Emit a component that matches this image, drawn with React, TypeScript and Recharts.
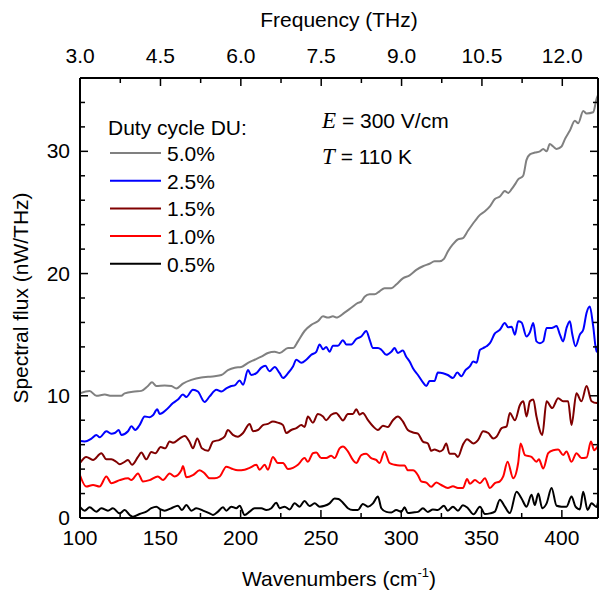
import { LineChart, Line, XAxis, YAxis } from "recharts";

const FONT = '"Liberation Sans", Arial, sans-serif';
const SERIF = '"Liberation Serif", "Times New Roman", serif';
const W = 600;
const H = 595;
const WN_PER_THZ = 33.356;
const WN_MIN = 100;
const WN_MAX = 422.5;
const FLUX_MAX = 36;
const FS = 21;

// plot box, follows from the margins and axis sizes given to the chart below
const BOX = { left: 80, right: 598, top: 78, bottom: 518 };

// 5.0 % duty cycle
const grayWn = [100, 106, 110.2, 115.4, 119.5, 125.7, 127.8, 134, 138.2, 142.3, 144.8, 147.5, 152.7, 156.9, 160, 164.1, 169.3, 175.5, 179.7, 183.8, 188, 192.1, 196.3, 200.4, 204.6, 208.7, 212.9, 217, 221.2, 224.3, 229.5, 232.6, 235.7, 239.8, 244, 248.1, 251.3, 254.4, 257.5, 259.5, 264.7, 268.9, 273, 275.1, 277.2, 280.3, 283.4, 286.5, 289.6, 293.8, 296.9, 301, 305.2, 309.4, 313.5, 317.6, 320.7, 323.9, 326.6, 329, 332.2, 335.3, 338.4, 341.5, 345.9, 349, 352.1, 355.2, 358.3, 361.4, 364.5, 366.6, 368.7, 370.8, 372.8, 375.9, 378, 380.1, 383.2, 386.3, 388.4, 390.5, 392.5, 394.6, 396.7, 399.8, 401.9, 405, 408.1, 410.2, 413.3, 415.4, 419.5, 421.6, 422.5];
const grayFlux = [10.2, 10.4, 10.0, 10.1, 10.0, 10.0, 10.2, 10.35, 10.4, 10.8, 11.1, 10.8, 10.85, 10.8, 10.6, 11.0, 11.3, 11.5, 11.55, 11.6, 11.7, 12.1, 12.3, 12.35, 12.7, 12.95, 13.2, 13.5, 13.6, 13.5, 13.9, 13.9, 14.45, 15.3, 15.8, 16.1, 16.5, 16.4, 16.5, 16.4, 16.8, 17.2, 17.6, 17.7, 18.1, 18.3, 18.3, 18.55, 18.8, 18.8, 19.1, 19.6, 19.85, 20.3, 20.6, 20.8, 21.0, 21.0, 21.2, 21.8, 22.4, 22.8, 22.9, 23.5, 24.3, 24.8, 25.1, 25.5, 26.1, 26.3, 26.75, 26.6, 26.9, 27.3, 27.7, 28.0, 29.3, 29.75, 29.9, 30.0, 30.2, 30.0, 30.6, 30.4, 30.2, 30.4, 31.0, 31.7, 32.5, 32.3, 33.3, 33.1, 33.2, 34.3, 34.6];

// 2.5 %
const blueWn = [100, 102.9, 107.1, 110.2, 112.3, 116.4, 119.5, 121.6, 124.1, 125.7, 129.9, 132, 134.4, 137.1, 140.3, 143.4, 145.4, 148.1, 149.6, 153.7, 157.9, 161, 164.1, 166.2, 170.3, 173.4, 177.6, 180.7, 184.9, 188, 191.1, 194.2, 196.3, 199.4, 201.5, 204.6, 206.6, 209.8, 212.9, 215.4, 218, 221.2, 224.3, 226.4, 229.5, 232.6, 234.7, 237.8, 240.9, 244, 247.1, 249.2, 251.3, 253.3, 255.4, 257.5, 260.6, 263.7, 265.8, 268.9, 272, 275.1, 278.2, 280.3, 282.4, 285.5, 287.6, 290.7, 293.8, 295.9, 297.9, 301, 303.1, 305.2, 307.3, 310.4, 313.5, 315.6, 317.6, 320.7, 322.8, 326, 329, 332.2, 334.9, 337.4, 340, 342.7, 344.8, 346.9, 349, 351, 353.1, 355.2, 358.3, 361.4, 364.5, 366.6, 368.7, 370.8, 372.8, 374.9, 378, 380.1, 382.2, 384.2, 386.3, 388.4, 390.5, 393.6, 396.7, 398.8, 400.8, 402.9, 405, 406.4, 408.5, 411.2, 413.3, 415.4, 417.4, 419.5, 421.6, 422.5];
const blueFlux = [6.3, 6.26, 6.5, 6.8, 6.6, 7.1, 6.9, 6.95, 7.2, 6.8, 7.1, 7.5, 7.2, 7.6, 8.3, 8.25, 8.4, 8.9, 8.5, 8.85, 9.4, 9.7, 10.1, 9.9, 10.5, 10.35, 9.5, 9.95, 10.5, 10.35, 10.6, 10.8, 10.85, 11.25, 10.9, 12.1, 11.7, 11.85, 12.3, 12.45, 12.0, 12.35, 11.85, 11.45, 11.85, 12.4, 12.95, 12.7, 12.95, 13.35, 13.6, 14.2, 13.8, 14.0, 13.6, 14.1, 14.1, 14.55, 14.2, 14.2, 14.65, 14.85, 15.3, 14.6, 13.9, 13.9, 13.77, 13.35, 13.6, 13.9, 13.5, 13.7, 13.2, 12.8, 12.25, 11.7, 11.1, 10.8, 11.2, 11.2, 11.9, 11.85, 11.7, 11.45, 11.9, 11.6, 12.1, 12.4, 12.8, 12.7, 13.75, 13.9, 14.05, 14.3, 15.1, 15.4, 15.95, 15.6, 15.65, 15.0, 16.1, 16.0, 14.85, 15.2, 15.95, 14.45, 14.3, 14.45, 15.55, 15.55, 15.7, 15.0, 14.45, 15.55, 16.1, 15.1, 14.05, 15.0, 15.4, 16.8, 17.3, 15.7, 13.6, 14.2];

// 1.5 %
const darkRedWn = [100, 103.9, 108.1, 113.3, 116.4, 119.5, 122.6, 124.7, 127.8, 129.9, 132.4, 136.1, 138.2, 141.3, 144.4, 146.9, 150.2, 153.1, 155.8, 157.9, 162, 165.2, 168.3, 170.3, 173, 175.9, 179.7, 182.8, 187, 190, 192.1, 195.2, 198.3, 201.5, 205.6, 207.7, 210.8, 213.9, 217, 220.1, 223.2, 226.4, 228.4, 231.5, 234.7, 237.8, 239.8, 241.9, 245, 248.1, 251.3, 253.3, 256.4, 259.5, 261.6, 263.7, 266.8, 269.9, 272, 274.1, 276.1, 279.3, 282.4, 285.5, 288.6, 291.7, 294.8, 297.9, 301, 304.1, 307.3, 310.4, 313.5, 316.6, 318.7, 320.7, 323.9, 326, 328, 330.1, 333.2, 335.3, 338.4, 341, 344.8, 347.9, 351, 354.2, 357.3, 359.3, 362.5, 365.6, 367.6, 370.8, 373.9, 376, 378, 380.1, 382.2, 384.2, 387.8, 390.5, 394, 397.7, 400.8, 403.9, 406, 409.1, 412.2, 415.4, 418.5, 421.6, 422.5];
const darkRedFlux = [4.5, 5.0, 4.75, 5.3, 4.8, 4.8, 4.6, 4.4, 4.6, 4.75, 4.35, 5.0, 5.35, 4.8, 5.4, 5.3, 5.8, 5.7, 6.25, 6.15, 6.5, 6.7, 6.2, 5.7, 6.5, 5.7, 5.5, 6.25, 6.4, 6.65, 7.2, 6.8, 6.65, 6.95, 7.7, 7.1, 7.2, 7.6, 7.7, 7.9, 7.8, 7.6, 6.95, 7.2, 7.35, 7.6, 7.45, 8.3, 7.8, 8.5, 8.3, 8.0, 8.45, 8.6, 8.3, 7.98, 8.5, 8.5, 8.9, 8.45, 8.6, 8.0, 7.5, 7.2, 7.55, 7.45, 8.0, 8.3, 7.9, 7.2, 7.0, 6.9, 6.25, 6.1, 5.5, 5.6, 5.45, 5.6, 6.1, 5.25, 5.25, 5.0, 6.0, 6.45, 6.1, 6.4, 7.1, 6.95, 6.5, 6.65, 7.35, 7.5, 8.6, 8.0, 9.25, 9.55, 8.3, 9.55, 9.7, 8.3, 6.8, 9.55, 9.0, 9.8, 9.55, 9.55, 7.6, 10.2, 9.55, 10.8, 9.55, 9.4, 9.5];

// 1.0 %
const redWn = [100, 103.9, 108.1, 112.2, 116.4, 119.5, 124.7, 129.9, 132, 136.1, 139.2, 143.4, 148.5, 151.7, 155.8, 158.9, 163.1, 164.1, 166.2, 170.3, 174.5, 177.6, 180.7, 183.8, 187, 191.1, 194.2, 198.3, 202.5, 205.6, 209.8, 211.8, 215, 217, 220.1, 223.2, 226.4, 229.5, 232.6, 235.7, 239.8, 241.9, 245, 247.1, 250.2, 253.3, 256.4, 258.5, 261.6, 263.7, 266.8, 269.9, 272, 275.1, 278.2, 281.3, 284.4, 286.5, 289.6, 292.7, 295.9, 299, 302.1, 304.1, 307.3, 310.4, 312.4, 315.6, 318.7, 321.8, 324.9, 329, 332.2, 335.3, 338.4, 341, 342.7, 345.9, 349, 352.1, 355.2, 358.3, 361.4, 363.5, 366.2, 369.7, 372.8, 374.3, 377, 381.1, 384.2, 385.7, 388.4, 391.5, 394.6, 397.7, 400.8, 402.9, 406, 409.1, 412.2, 415.4, 418.1, 420.1, 422.5];
const redFlux = [3.5, 2.57, 2.7, 2.57, 3.4, 2.85, 3.1, 3.25, 3.1, 3.65, 2.98, 3.1, 3.4, 3.1, 3.65, 3.4, 3.9, 4.25, 3.33, 3.5, 3.9, 3.65, 3.25, 3.25, 3.4, 4.2, 4.05, 3.9, 3.95, 4.1, 4.35, 3.95, 4.35, 3.95, 5.0, 4.5, 4.5, 4.0, 4.1, 4.35, 4.9, 4.6, 5.3, 5.35, 4.9, 4.9, 5.1, 4.9, 5.7, 5.85, 5.45, 4.75, 4.5, 5.15, 5.25, 4.9, 4.75, 4.5, 5.45, 4.5, 4.35, 4.3, 4.3, 3.9, 3.9, 3.5, 3.0, 2.9, 2.55, 2.9, 2.7, 2.45, 2.6, 2.45, 2.45, 3.2, 2.8, 3.1, 2.85, 3.25, 2.45, 2.85, 3.0, 3.4, 4.6, 3.25, 4.5, 6.1, 5.15, 5.0, 4.6, 4.8, 4.05, 5.3, 5.55, 5.6, 5.15, 5.45, 4.6, 5.3, 4.9, 4.95, 6.25, 5.55, 5.9];

// 0.5 %
const blackWn = [100, 102.9, 106, 110.2, 113.3, 117.4, 120.5, 124.7, 127.8, 130.9, 133, 137.1, 141.3, 144.4, 147.5, 150.2, 152.7, 156.9, 161, 163.5, 166.2, 169.3, 172.4, 176.6, 180.7, 182.8, 185.9, 189, 191.1, 194.2, 197.3, 199.4, 202.5, 205.6, 208.7, 212.9, 216, 219.1, 222.2, 224.3, 227.4, 230.5, 233.6, 236.7, 239.8, 242.9, 246.1, 249.2, 252.3, 255.4, 258.5, 261, 263.7, 266.8, 269.9, 273, 276.1, 279.3, 282.4, 285.5, 287.6, 290.7, 293.8, 296.9, 300, 302.1, 304.1, 307.3, 310.4, 313.5, 316.6, 319.7, 322.8, 326.6, 329, 332.2, 335.3, 338.4, 341.5, 345, 349, 352.1, 355.2, 358.3, 361.4, 364.5, 367.6, 371.8, 374.9, 378, 381.1, 383.2, 385.3, 387.8, 390.5, 393.6, 396.7, 399.8, 402.9, 406, 408.5, 411.2, 413.3, 416, 418.5, 421.6, 422.5];
const blackFlux = [0.9, 0.6, 0.87, 0.52, 0.8, 0.6, 0.8, 0.38, 0.65, 0.25, 0.1, 0.33, 0.52, 0.8, 0.93, 0.7, 0.6, 0.8, 1.0, 0.65, 1.06, 0.6, 0.8, 0.6, 0.38, 0.25, 0.52, 0.87, 0.6, 0.93, 0.8, 1.0, 0.25, 0.52, 0.8, 0.8, 0.65, 0.8, 1.25, 0.8, 0.93, 0.7, 1.2, 0.93, 1.4, 0.98, 1.2, 0.93, 1.0, 1.2, 1.6, 1.55, 1.25, 0.8, 0.65, 0.65, 1.15, 0.93, 1.2, 1.75, 0.8, 0.5, 0.45, 0.65, 0.5, 0.87, 0.4, 0.45, 0.5, 0.8, 0.5, 0.7, 0.65, 1.0, 0.6, 0.93, 0.6, 1.05, 0.8, 0.3, 0.93, 0.33, 0.38, 0.52, 1.5, 0.93, 0.4, 2.15, 1.6, 0.93, 1.9, 1.06, 2.0, 0.8, 1.2, 2.45, 1.0, 0.93, 0.93, 1.75, 0.93, 0.7, 2.15, 0.65, 1.2, 0.9, 1.3];

const wnTicks = [100, 125, 150, 175, 200, 225, 250, 275, 300, 325, 350, 375, 400];
const thzTicks = [3, 3.75, 4.5, 5.25, 6, 6.75, 7.5, 8.25, 9, 9.75, 10.5, 11.25, 12];
const fluxTicks = [0, 2, 4, 6, 8, 10, 12, 14, 16, 18, 20, 22, 24, 26, 28, 30, 32, 34];

const series = [
  { key: "du50", label: "5.0%", color: "#808080", wn: grayWn, flux: grayFlux },
  { key: "du25", label: "2.5%", color: "#0000ff", wn: blueWn, flux: blueFlux },
  { key: "du15", label: "1.5%", color: "#800000", wn: darkRedWn, flux: darkRedFlux },
  { key: "du10", label: "1.0%", color: "#ff0000", wn: redWn, flux: redFlux },
  { key: "du05", label: "0.5%", color: "#000000", wn: blackWn, flux: blackFlux },
];

// one table for the chart: each row carries one series value, lines skip the gaps
const rows = series
  .flatMap((s) => s.wn.map((w, i) => ({ wn: w, thz: w / WN_PER_THZ, [s.key]: s.flux[i] })))
  .sort((a, b) => a.wn - b.wn);

const isMult = (v: number, step: number) => Math.abs(v / step - Math.round(v / step)) < 1e-6;

// tick labels come from recharts
function makeLabel(step: number, fmt: (v: number) => string, tx: number, ty: number, anchor: string) {
  return (p: any) => (
    <text x={p.x + tx} y={p.y + ty} textAnchor={anchor} fontSize={FS} fontFamily={FONT} fill="#000">
      {isMult(p.payload.value, step) ? fmt(p.payload.value) : ""}
    </text>
  );
}
const bottomLabel = makeLabel(50, (v) => String(v), 0, 27, "middle");
const topLabel = makeLabel(1.5, (v) => v.toFixed(1), 0, -15, "middle");
const leftLabel = makeLabel(10, (v) => String(v), -10, 7, "end");

// frame and inward tick marks, same box as the chart's plot area
const sx = (wn: number) => BOX.left + ((wn - WN_MIN) / (WN_MAX - WN_MIN)) * (BOX.right - BOX.left);
const sy = (v: number) => BOX.bottom - (v / FLUX_MAX) * (BOX.bottom - BOX.top);
const tickLen = (major: boolean) => (major ? 8 : 5);

function Frame() {
  return (
    <g>
      <line x1={BOX.left} x2={BOX.right} y1={BOX.top} y2={BOX.top} stroke="#000" strokeWidth={2} />
      <line x1={BOX.left} x2={BOX.right} y1={BOX.bottom} y2={BOX.bottom} stroke="#000" strokeWidth={2} />
      <line x1={BOX.left} x2={BOX.left} y1={BOX.top} y2={BOX.bottom} stroke="#000" strokeWidth={2} />
      <line x1={BOX.right} x2={BOX.right} y1={BOX.top} y2={BOX.bottom} stroke="#000" strokeWidth={2} />
      {wnTicks.map((t) => (
        <line key={`b${t}`} x1={sx(t)} x2={sx(t)} y1={BOX.bottom} y2={BOX.bottom - tickLen(isMult(t, 50))} stroke="#000" strokeWidth={1.5} />
      ))}
      {thzTicks.map((t) => (
        <line key={`t${t}`} x1={sx(t * WN_PER_THZ)} x2={sx(t * WN_PER_THZ)} y1={BOX.top} y2={BOX.top + tickLen(isMult(t, 1.5))} stroke="#000" strokeWidth={1.5} />
      ))}
      {fluxTicks.map((t) => (
        <g key={`y${t}`}>
          <line x1={BOX.left} x2={BOX.left + tickLen(isMult(t, 10))} y1={sy(t)} y2={sy(t)} stroke="#000" strokeWidth={1.5} />
          <line x1={BOX.right} x2={BOX.right - tickLen(isMult(t, 10))} y1={sy(t)} y2={sy(t)} stroke="#000" strokeWidth={1.5} />
        </g>
      ))}
    </g>
  );
}

function Overlay() {
  return (
    <svg width={W} height={H} style={{ position: "absolute", left: 0, top: 0, pointerEvents: "none" }}>
      <Frame />
      <g fontFamily={FONT} fontSize={FS} fill="#000">
        <text x={339} y={27} textAnchor="middle">Frequency (THz)</text>
        <text x={339} y={586} textAnchor="middle">
          Wavenumbers (cm
          <tspan dy={-9} fontSize={13}>-1</tspan>
          <tspan dy={9}>)</tspan>
        </text>
        <text x={28} y={298} textAnchor="middle" transform="rotate(-90 28 298)">Spectral flux (nW/THz)</text>

        <text x={108} y={135}>Duty cycle DU:</text>
        {series.map((s, i) => {
          const ly = 153 + i * 27.7;
          return (
            <g key={s.key}>
              <line x1={110} x2={161} y1={ly} y2={ly} stroke={s.color} strokeWidth={2} />
              <text x={167} y={ly + 8}>{s.label}</text>
            </g>
          );
        })}

        <text x={322} y={128}>
          <tspan fontFamily={SERIF} fontStyle="italic" fontSize={23}>E</tspan> = 300 V/cm
        </text>
        <text x={322} y={164}>
          <tspan fontFamily={SERIF} fontStyle="italic" fontSize={23}>T</tspan> = 110 K
        </text>
      </g>
    </svg>
  );
}

export default function App() {
  return (
    <div style={{ position: "absolute", left: 0, top: 0, width: W, height: H, background: "#fff" }}>
      <LineChart width={W} height={H} data={rows} margin={{ top: 0, right: 0, bottom: 0, left: 0 }}>
        <XAxis xAxisId="bottom" dataKey="wn" type="number" domain={[WN_MIN, WN_MAX]} allowDataOverflow ticks={wnTicks} interval={0} height={77} tickSize={0} tickMargin={0} tickLine={false} axisLine={false} tick={bottomLabel} />
        <XAxis xAxisId="top" dataKey="thz" orientation="top" type="number" domain={[WN_MIN / WN_PER_THZ, WN_MAX / WN_PER_THZ]} allowDataOverflow ticks={thzTicks} interval={0} height={78} tickSize={0} tickMargin={0} tickLine={false} axisLine={false} tick={topLabel} />
        <YAxis yAxisId="left" type="number" domain={[0, FLUX_MAX]} allowDataOverflow ticks={fluxTicks} interval={0} width={80} tickSize={0} tickMargin={0} tickLine={false} axisLine={false} tick={leftLabel} />
        <YAxis yAxisId="right" orientation="right" type="number" domain={[0, FLUX_MAX]} allowDataOverflow width={2} tick={false} tickLine={false} axisLine={false} />
        <Line xAxisId="top" yAxisId="right" dataKey="du50" stroke="transparent" strokeWidth={0} connectNulls dot={false} activeDot={false} isAnimationActive={false} />
        {series.map((s) => (
          <Line key={s.key} xAxisId="bottom" yAxisId="left" dataKey={s.key} type="monotone" connectNulls stroke={s.color} strokeWidth={2} dot={false} activeDot={false} isAnimationActive={false} />
        ))}
      </LineChart>
      <Overlay />
    </div>
  );
}
